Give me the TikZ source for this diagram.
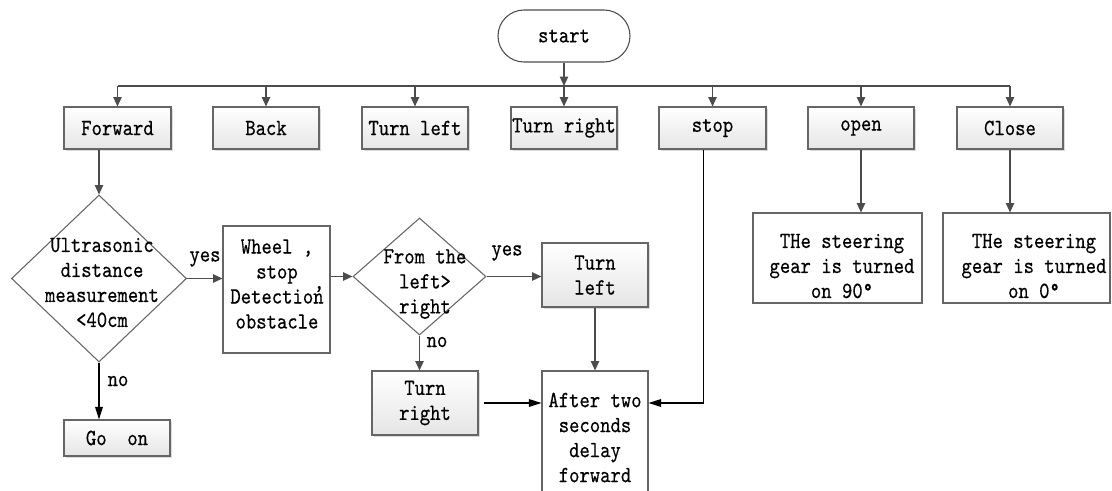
\documentclass[tikz,border=0pt]{standalone}
\usepackage{fontspec}
\setmonofont{lmmono10-regular}[Extension=.otf,FakeStretch=0.85,FakeBold=0.4]
\usetikzlibrary{shapes.geometric,shapes.misc,arrows.meta,shadows}
\begin{document}
\begin{tikzpicture}[x=0.75pt,y=-0.75pt,
  font=\ttfamily\fontsize{17.4}{18.75}\selectfont,
  ln/.style={draw=black!70, line width=1.1pt},
  arr/.style={ln, -{Triangle[length=7pt,width=6.2pt]}},
  barr/.style={draw=black, line width=0.9pt, -{Triangle[length=9.5pt,width=5.8pt]}},
  gbox/.style={draw=black!60, line width=0.8pt, top color=white, bottom color=black!10,
    drop shadow={shadow xshift=1.5pt,shadow yshift=-1.5pt,fill=black!20,opacity=0.7},
    inner sep=0pt, align=center},
  wbox/.style={draw=black!60, line width=0.8pt, fill=white, inner sep=0pt, align=center},
  dia/.style={diamond, draw=black!60, line width=0.8pt, fill=white, inner sep=0pt},
  sz/.style 2 args={minimum width=#1*0.75pt, minimum height=#2*0.75pt},
  txt/.style={inner sep=0pt, align=center}]
\useasboundingbox (0,0) rectangle (1112,490);
\clip (0,0) rectangle (1112,490);

% start
\node[rounded rectangle, draw=black!70, line width=0.8pt, fill=white, inner sep=0pt, sz={132}{52}] (start) at (564,36) {start};

% top row
\node[gbox, sz={107}{42}] (fwd)   at (117.5,128) {Forward};
\node[gbox, sz={106}{42}] (back)  at (266,128)   {Back};
\node[gbox, sz={106}{42}] (tl)    at (415,128)   {Turn left};
\node[gbox, sz={106}{42}] (tr)    at (564,128)   {Turn right};
\node[gbox, sz={107}{42}] (stop)  at (712.5,128) {stop};
\node[gbox, sz={106}{42}] (open)  at (861,128)   {open};
\node[gbox, sz={106}{42}] (close) at (1010,128)  {Close};

\coordinate (busL) at (117.5,86);
\coordinate (busR) at (1010,86);
\draw[ln] (busL) -- (busR);
\draw[arr] (start.south) -- (start.south |- busL);
\foreach \n in {fwd,back,tl,tr,stop,open,close}
  \draw[arr] (\n.north |- busL) -- (\n.north);

% left branch
\node[dia, sz={175}{167}] (d1) at (99,278.5) {};
\node[txt] (d1t) at (102,282.5) {Ultrasonic\\distance\\measurement\\<40cm};

\node[wbox, sz={107}{127}] (wheel) at (276.5,289.5) {};
\node[txt] (wheelt) at (277,284) {Wheel ,\\stop\\Detection\\obstacle};
\node[txt] (wcomma) at (319,289) {,};

\node[gbox, sz={106}{36}] (goon) at (117,438) {Go~~on};

\node[dia, sz={133}{117}] (d2) at (419.5,276.5) {};
\node[txt] (d2t) at (425,284) {From the\\left>\\right};

\node[gbox, sz={106}{64}] (tl2) at (595,275) {Turn\\left};
\node[gbox, sz={106}{64}] (tr2) at (425,403) {Turn\\right};
\node[wbox, sz={106}{133}] (after) at (595,437.5) {After two\\seconds\\delay\\forward};

% right branch
\node[wbox, sz={169}{90}] (st1) at (837.5,258) {};
\node[txt] (st1t) at (842,266) {THe steering\\gear is turned\\on 90°};
\node[wbox, sz={167}{90}] (st2) at (1026.5,258) {};
\node[txt] (st2t) at (1034,266) {THe steering\\gear is turned\\on 0°};

% labels
\node[txt] (yes1) at (205,259) {yes};
\node[txt] (no1)  at (118,381) {no};
\node[txt] (yes2) at (507,253) {yes};
\node[txt] (no2)  at (437,342) {no};

% connectors
\draw[arr] (fwd.south -| d1.north) -- (d1.north);
\draw[arr] (d1.east) -- (wheel.west |- d1.east);
\draw[barr] (d1.south) -- (goon.north -| d1.south);
\draw[arr] (wheel.east |- d2.west) -- (d2.west);
\draw[arr] (d2.east) -- (tl2.west |- d2.east);
\draw[arr] (d2.south) -- (tr2.north -| d2.south);
\draw[arr] (tl2.south) -- (after.north -| tl2.south);
\draw[barr] ([xshift=3.75pt]tr2.east) -- (tr2.east -| after.west);
\draw[barr] ([xshift=-7pt]stop.south) |- (tr2.east -| after.east);
\draw[arr] (open.south) -- (st1.north -| open.south);
\draw[arr] (close.south) -- (st2.north -| close.south);
\end{tikzpicture}
\end{document}
